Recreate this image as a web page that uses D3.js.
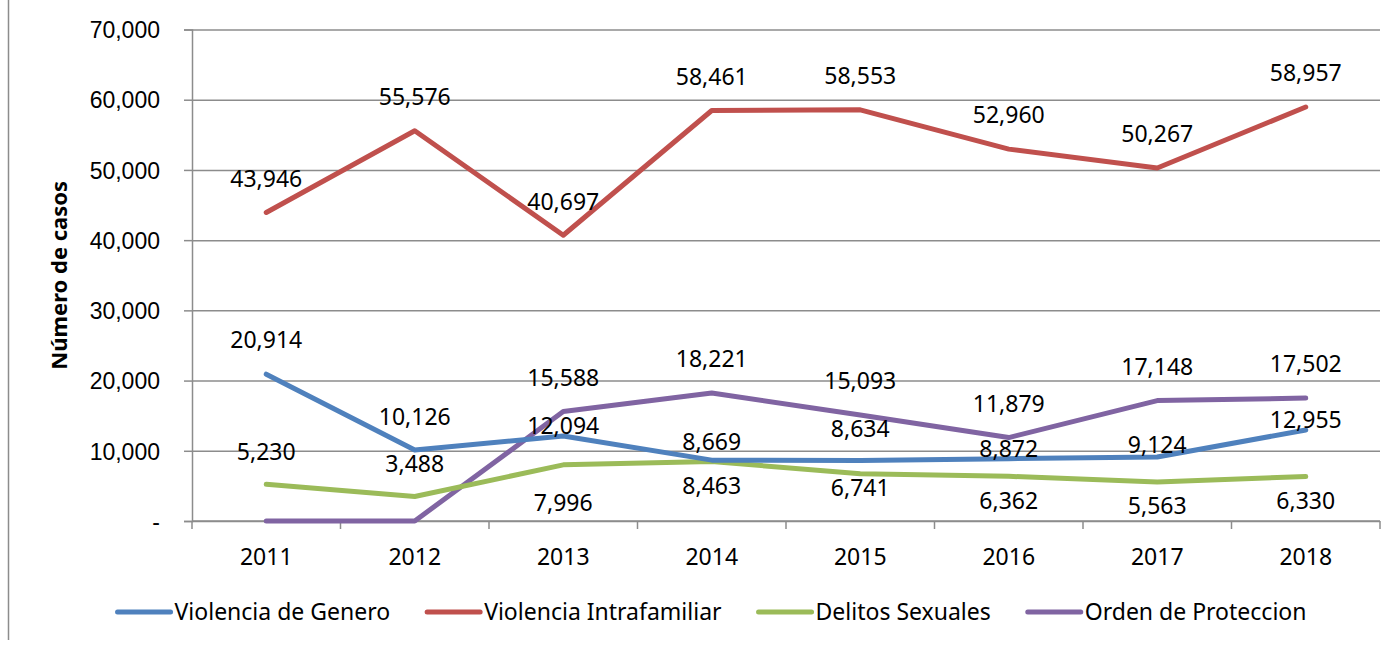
<!DOCTYPE html>
<html>
<head>
<meta charset="utf-8">
<script src="https://cdn.jsdelivr.net/npm/d3@7"></script>
<style>
  body { margin: 0; background: #fff; }
  svg { display: block; font-family: "Noto Sans", sans-serif; }
  .axis path, .axis line { stroke: #8c8c8c; }
  .grid line { stroke: #8c8c8c; }
  .grid path { display: none; }
  .axis text { font-size: 23px; fill: #000; }
  .data-label { font-size: 23px; fill: #000; text-anchor: middle; }
  .legend-text { font-size: 23px; fill: #000; }
</style>
</head>
<body>
<svg id="chart"></svg>
<script>
const years = ["2011", "2012", "2013", "2014", "2015", "2016", "2017", "2018"];
const yTicks = [0, 10000, 20000, 30000, 40000, 50000, 60000, 70000];

const genero = [20914, 10126, 12094, 8669, 8634, 8872, 9124, 12955];
const intrafamiliar = [43946, 55576, 40697, 58461, 58553, 52960, 50267, 58957];
const sexuales = [5230, 3488, 7996, 8463, 6741, 6362, 5563, 6330];
const proteccion = [0, 0, 15588, 18221, 15093, 11879, 17148, 17502];

const seriesNames = ["Violencia de Genero", "Violencia Intrafamiliar", "Delitos Sexuales", "Orden de Proteccion"];
const colors = ["#4f81bd", "#c0504d", "#9bbb59", "#8064a2"];

// label offsets (px from the point), the labels in the original were moved by hand
const labelShift = [
  [-34, -33, -10, -18, -32, -10, -12, -10],
  [-34, -34, -34, -34, -34, -34, -34, -34],
  [-33, -33, 38, 24, 14, 24, 24, 24],
  [-34, -34, -34, -34, -34, -34, -34, -34]
];

const width = 1399;
const height = 646;
const margin = { top: 29.5, right: 19, bottom: 125, left: 192 };

const svg = d3.select("#chart").attr("width", width).attr("height", height);

// frame line on the left
svg.append("line")
  .attr("x1", 8.5).attr("x2", 8.5)
  .attr("y1", 0).attr("y2", 640)
  .attr("stroke", "#8c8c8c")
  .attr("stroke-width", 1.5);

const xScale = d3.scaleBand()
  .domain(years)
  .range([margin.left, width - margin.right]);

const yScale = d3.scaleLinear()
  .domain([0, 70000])
  .range([height - margin.bottom, margin.top]);

const plotW = width - margin.right - margin.left;
const cx = (d) => xScale(d) + xScale.bandwidth() / 2;

// horizontal gridlines
svg.append("g")
  .attr("class", "grid")
  .attr("transform", `translate(${margin.left},0)`)
  .call(d3.axisLeft(yScale).tickValues(yTicks).tickSize(-plotW).tickFormat(""))
  .selectAll("line").attr("stroke-width", 1.5);

// y axis
const yAxis = svg.append("g")
  .attr("class", "axis")
  .attr("transform", `translate(${margin.left},0)`)
  .call(d3.axisLeft(yScale)
    .tickValues(yTicks)
    .tickSize(8)
    .tickPadding(24)
    .tickFormat((d) => d === 0 ? "-" : d3.format(",")(d)));
yAxis.select(".domain").attr("stroke-width", 1.5);
yAxis.selectAll("line").attr("stroke-width", 1.5);
yAxis.selectAll("text").attr("dy", "0.36em");

// x axis line with ticks on band edges
const x0 = yScale(0);
const edges = years.map((d) => xScale(d)).concat([width - margin.right]);
svg.append("line")
  .attr("x1", margin.left).attr("x2", width - margin.right)
  .attr("y1", x0).attr("y2", x0)
  .attr("stroke", "#8c8c8c").attr("stroke-width", 1.5);
svg.selectAll(".xtick")
  .data(edges)
  .enter()
  .append("line")
  .attr("class", "xtick")
  .attr("x1", (d) => d).attr("x2", (d) => d)
  .attr("y1", x0).attr("y2", x0 + 8)
  .attr("stroke", "#8c8c8c").attr("stroke-width", 1.5);

svg.selectAll(".year")
  .data(years)
  .enter()
  .append("text")
  .attr("class", "axis")
  .attr("x", cx)
  .attr("y", x0 + 44)
  .attr("text-anchor", "middle")
  .style("font-size", "23px")
  .text((d) => d);

// y title
svg.append("text")
  .attr("transform", `translate(67,${(margin.top + x0) / 2}) rotate(-90)`)
  .attr("text-anchor", "middle")
  .style("font-size", "22px")
  .style("font-weight", "bold")
  .text("Número de casos");

const allSeries = [genero, intrafamiliar, sexuales, proteccion];

const lineGenerator = d3.line()
  .x((d, i) => cx(years[i]))
  .y((d) => yScale(d));

// draw order like the original: purple and green under, then blue, red
[3, 2, 0, 1].forEach((s) => {
  svg.append("path")
    .datum(allSeries[s])
    .attr("d", lineGenerator)
    .attr("fill", "none")
    .attr("stroke", colors[s])
    .attr("stroke-width", 5)
    .attr("stroke-linejoin", "round")
    .attr("stroke-linecap", "round");
});

allSeries.forEach((vals, s) => {
  svg.selectAll(".lbl" + s)
    .data(vals.map((v, i) => ({ v, i })).filter((d) => d.v > 0))
    .enter()
    .append("text")
    .attr("class", "data-label lbl" + s)
    .attr("x", (d) => cx(years[d.i]))
    .attr("y", (d) => yScale(d.v) + labelShift[s][d.i])
    .attr("dy", "0.36em")
    .text((d) => d3.format(",")(d.v));
});

// legend
const legend = svg.append("g").attr("transform", "translate(0,612)");
let lx = 0;
seriesNames.forEach((name, i) => {
  const g = legend.append("g");
  g.append("line")
    .attr("x1", 0).attr("x2", 53)
    .attr("stroke", colors[i])
    .attr("stroke-width", 5)
    .attr("stroke-linecap", "round");
  const t = g.append("text")
    .attr("class", "legend-text")
    .attr("x", 57)
    .attr("dy", "0.36em")
    .text(name);
  const w = 57 + t.node().getComputedTextLength();
  g.attr("transform", `translate(${lx},0)`);
  lx += w + 37;
});
const legendW = lx - 37;
legend.attr("transform", `translate(${712 - legendW / 2},612)`);
</script>
</body>
</html>
